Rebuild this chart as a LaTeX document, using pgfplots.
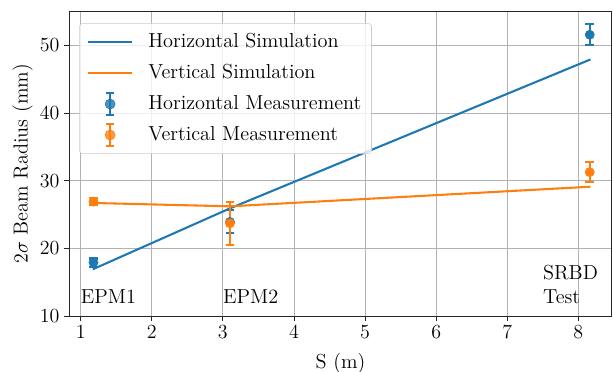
\documentclass[border=0pt]{standalone}
\usepackage{pgfplots}
\pgfplotsset{compat=1.18}
\usetikzlibrary{calc}
\definecolor{tabblue}{HTML}{1F77B4}
\definecolor{taborange}{HTML}{FF7F0E}
\newcommand{\fs}{\fontsize{14.6}{17.3}\selectfont}
\begin{document}
\begin{tikzpicture}[font=\fs]
\begin{axis}[
  scale only axis, width=390.5pt, height=219.3pt,
  xmin=0.84, xmax=8.47, ymin=10, ymax=55,
  xtick={1,2,...,8}, ytick={10,20,...,50},
  tick pos=left,
  grid=major, grid style={color=black!30, line width=0.6pt},
  axis line style={line width=0.6pt, color=black!85},
  tick style={line width=0.6pt, color=black!85},
  tick align=outside, major tick length=3.5pt,
  tick label style={font=\fs},
  label style={font=\fs},
  xlabel={S (m)}, ylabel={$2\sigma$ Beam Radius (mm)},
  xlabel style={at={(axis description cs:0.5,-0.122)}, anchor=north, inner sep=0pt},
  ylabel style={at={(axis description cs:-0.067,0.5)}, anchor=south, inner sep=0pt},
  legend cell align=left,
  legend style={at={(0.0184,0.961)}, anchor=north west,
    draw=black!20, rounded corners=2pt, fill=white, fill opacity=0.8, text opacity=1,
    font=\fs,
    nodes={inner xsep=1.8pt, inner ysep=0pt, text height=13.5pt, text depth=5pt},
    inner xsep=5.5pt, inner ysep=4.1pt, row sep=3.8pt, column sep=9.2pt},
  simline/.style={line width=1.5pt,
    legend image code/.code={\draw[##1] (0pt,0pt) -- (31.5pt,0pt);}},
  measleg/.style={legend image code/.code={
    \draw[line width=1.5pt, color=#1] (15.75pt,-7.8pt) -- (15.75pt,7.8pt)
      (12.65pt,-7.8pt) -- (18.85pt,-7.8pt) (12.65pt,7.8pt) -- (18.85pt,7.8pt);
    \fill[color=#1] (15.75pt,0pt) circle (3.6pt);}},
  meas/.style={only marks, mark=*, mark size=3.3pt,
    error bars/.cd, y dir=both, y explicit,
    error bar style={line width=1.5pt},
    error mark options={rotate=90, mark size=3.1pt, line width=1.5pt}},
]
\addplot[simline, color=tabblue] coordinates {(1.17,16.9) (3.1,25.9) (8.17,47.9)};
\addlegendentry{Horizontal Simulation}
\addplot[simline, color=taborange] coordinates {(1.17,26.7) (3.1,26.2) (8.17,29.1)};
\addlegendentry{Vertical Simulation}
\addplot[color=tabblue, measleg=tabblue, meas] coordinates {
  (1.18,17.9) +- (0,0.6)
  (3.1,23.9) +- (0,1.7)
  (8.16,51.55) +- (0,1.55)};
\addlegendentry{Horizontal Measurement}
\addplot[color=taborange, measleg=taborange, meas] coordinates {
  (1.18,26.9) +- (0,0.5)
  (3.1,23.7) +- (0,3.2)
  (8.16,31.25) +- (0,1.5)};
\addlegendentry{Vertical Measurement}
\node[anchor=south west, inner sep=0pt] at (axis cs:1,11.83) {EPM1};
\node[anchor=south west, inner sep=0pt] at (axis cs:3,11.83) {EPM2};
\node[anchor=south west, inner sep=0pt, align=left] at (axis cs:7.5,11.83) {SRBD\\Test};
\end{axis}
\pgfresetboundingbox
\path[use as bounding box] ($(current axis.south west)+(-49.9pt,-40.3pt)$) rectangle ($(current axis.north east)+(0.9pt,8.2pt)$);
\end{tikzpicture}
\end{document}
